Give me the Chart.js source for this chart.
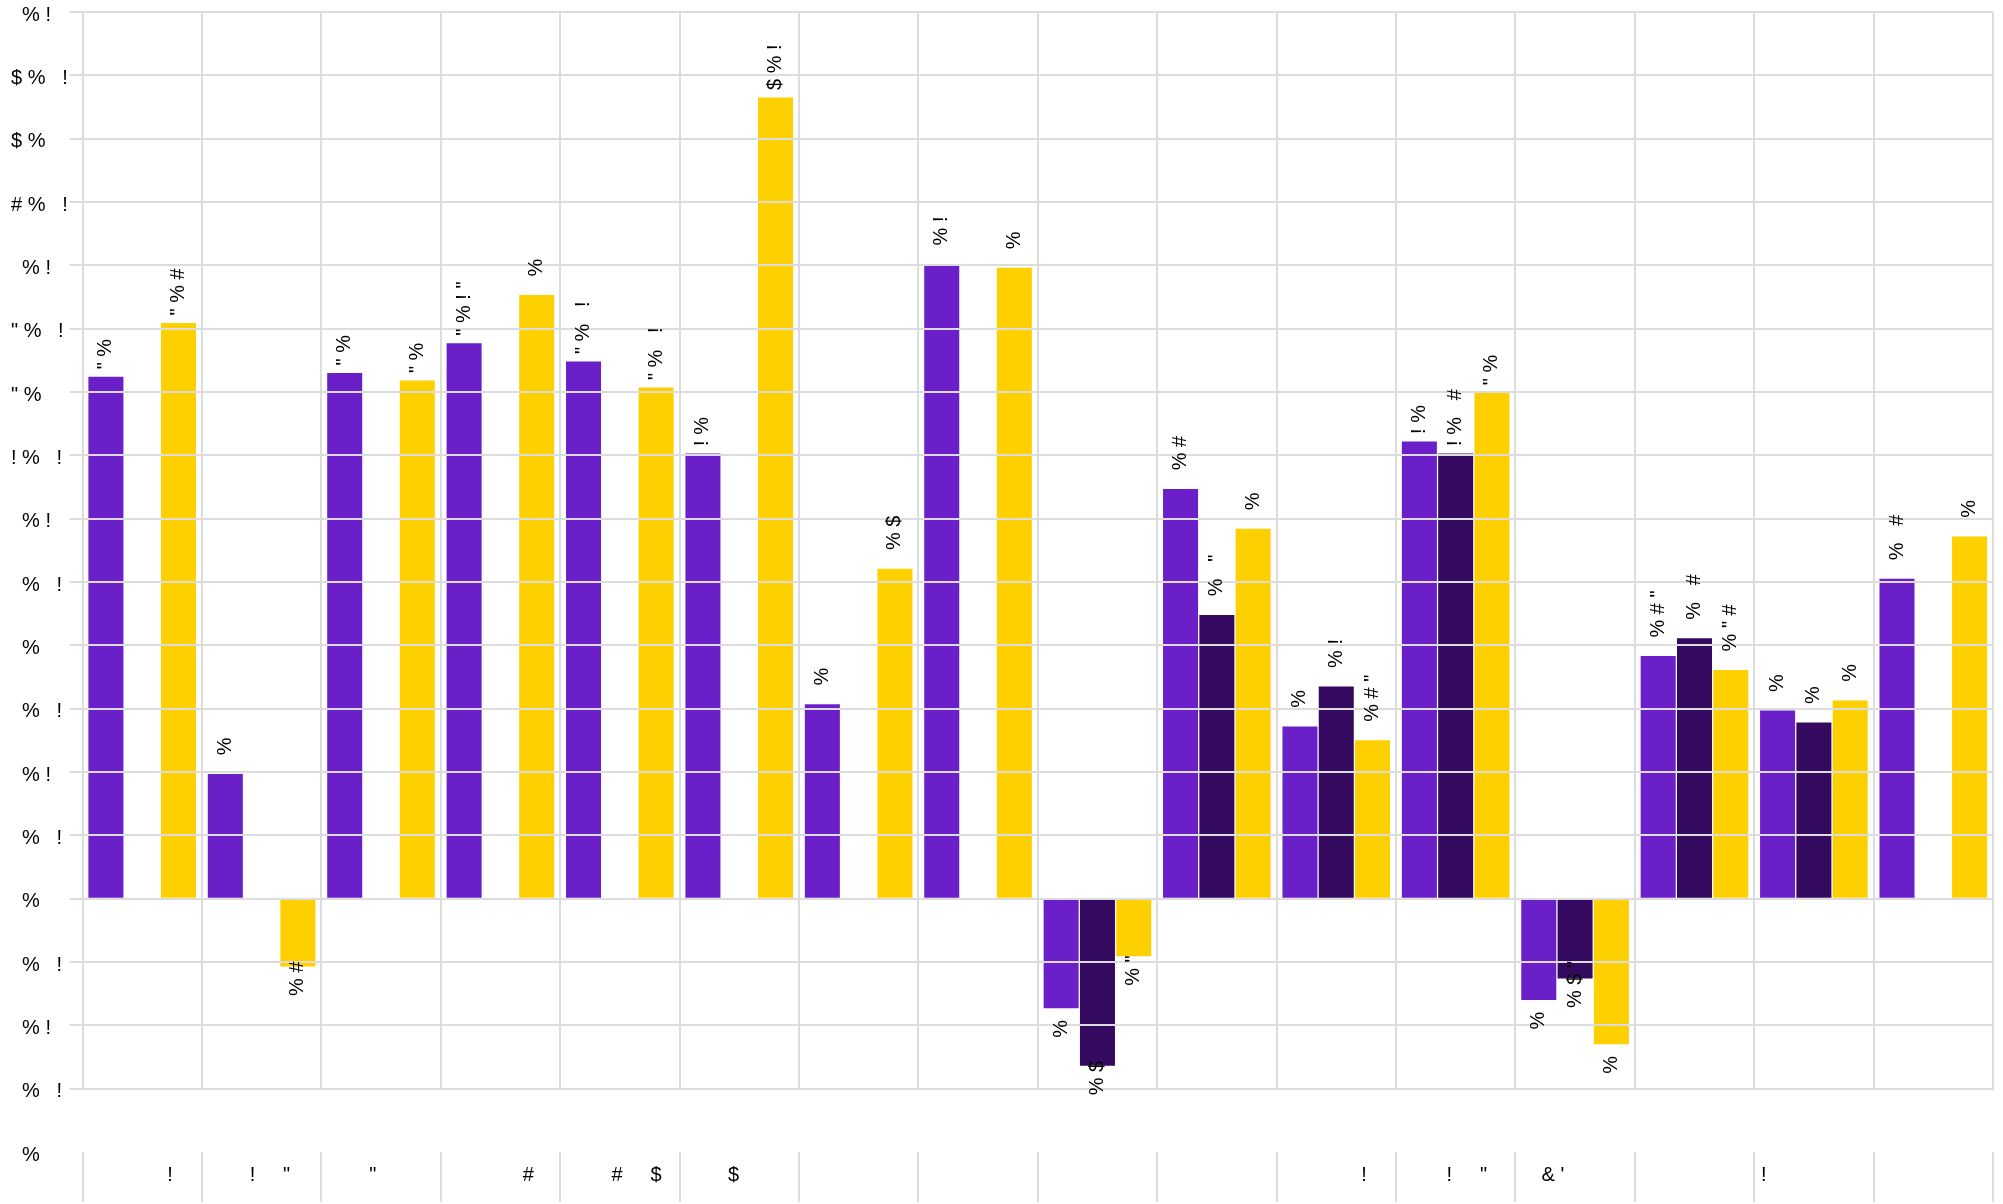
<!DOCTYPE html>
<html>
<head>
<meta charset="utf-8">
<script src="https://cdn.jsdelivr.net/npm/chart.js@4.4.0/dist/chart.umd.min.js"></script>
<style>
html, body { margin: 0; padding: 0; background: #fff; }
canvas { display: block; }
</style>
</head>
<body>
<canvas id="myChart" width="2003" height="1204"></canvas>
<script>
function sp(n) { return ' '.repeat(n); }

// category labels (only the visible glyphs survive, spaces keep their place)
var categories = [
    sp(10) + '!', sp(3) + '!' + sp(5) + '"', '"' + sp(3), sp(10) + '#',
    sp(6) + '#' + sp(5) + '$', '$' + sp(2), '', '',
    '', '', sp(10) + '!', sp(4) + '!' + sp(5) + '"',
    '& \'' + sp(8), '', '!' + sp(18), ''
];

// y tick texts, from -4 up to 14
var yTickText = [
    '  %', '  %   !', '  % !', '  %   !', '  %', '  %   !', '  % !', '  %   !', '  %',
    '  %   !', '  % !', '! %   !', '" %', '" %   !', '  % !', '# %   !', '$ %', '$ %   !', '  % !'
];

var purpleValues = [8.24, 1.97, 8.30, 8.77, 8.48, 7.03, 3.07, 10.02, -1.73, 6.47, 2.72, 7.22, -1.60, 3.83, 2.97, 5.05];
var darkValues   = [null, null, null, null, null, null, null, null, -2.64, 4.48, 3.35, 7.03, -1.26, 4.11, 2.78, null];
var yellowValues = [9.09, -1.07, 8.18, 9.53, 8.07, 12.65, 5.21, 9.96, -0.91, 5.84, 2.50, 7.99, -2.30, 3.61, 3.13, 5.72];

var purpleText = ['" %', '  %', '" %', '" % ! "', '" %   !', '! %', '  %', '  % !', '%', '  % #', '  %', '! %', '%', '  % # "', '  %', '  %   #'];
var darkText   = [null, null, null, null, null, null, null, null, '% $', '  %   "', '  % !', '! %   #', '% $ "', '  %   #', '  %', null];
var yellowText = ['" % #', '% #', '" %', '  %', '" %   !', '$ % !', '  % $', '  %', '% "', '  %', '  % # "', '" %', '%', '  % " #', '  %', '  %'];

var valueTexts = [purpleText, darkText, yellowText];
var fontFamily = '"Liberation Sans", Arial, sans-serif';

// blank band between the lowest gridline and the axis row
var gapCover = {
    id: 'gapCover',
    beforeDatasetsDraw: function(chart) {
        var a = chart.chartArea;
        var top = chart.scales.y.getPixelForValue(-3) + 1.5;
        var c = chart.ctx;
        c.save();
        c.fillStyle = '#fff';
        c.fillRect(a.left - 3, top, a.right - a.left + 6, a.bottom - top);
        c.restore();
    }
};

// rotated value texts next to the bars
var barLabels = {
    id: 'barLabels',
    afterDraw: function(chart) {
        var c = chart.ctx;
        c.save();
        c.font = '20px ' + fontFamily;
        c.fillStyle = '#000';
        c.textAlign = 'left';
        c.textBaseline = 'middle';
        chart.data.datasets.forEach(function(ds, i) {
            var meta = chart.getDatasetMeta(i);
            meta.data.forEach(function(bar, j) {
                var v = ds.data[j];
                var txt = valueTexts[i][j];
                if (v === null || !txt) return;
                var y = v >= 0 ? bar.y - 7.5 : bar.y + 29.5;
                c.save();
                c.translate(bar.x, y);
                c.rotate(-Math.PI / 2);
                c.fillText(txt, 0, 0);
                c.restore();
            });
        });
        c.restore();
    }
};

const ctx = document.getElementById('myChart').getContext('2d');
const myChart = new Chart(ctx, {
    type: 'bar',
    data: {
        labels: categories,
        datasets: [{
            label: 'A',
            data: purpleValues,
            backgroundColor: '#6b1fc8',
            categoryPercentage: 0.912,
            barPercentage: 0.965
        }, {
            label: 'B',
            data: darkValues,
            backgroundColor: '#340a60',
            categoryPercentage: 0.912,
            barPercentage: 0.965
        }, {
            label: 'C',
            data: yellowValues,
            backgroundColor: '#ffd000',
            categoryPercentage: 0.912,
            barPercentage: 0.965
        }]
    },
    options: {
        responsive: false,
        animation: false,
        devicePixelRatio: 1,
        layout: { padding: { left: 11, right: 10, top: 10, bottom: 0 } },
        plugins: {
            legend: { display: false },
            tooltip: { enabled: false }
        },
        scales: {
            x: {
                offset: true,
                grid: { offset: true, color: '#dcdcdc', lineWidth: 2, tickLength: 50, drawTicks: true },
                border: { display: false },
                ticks: {
                    autoSkip: false,
                    maxRotation: 0,
                    minRotation: 0,
                    padding: -39,
                    color: '#000',
                    font: { family: fontFamily, size: 20 }
                },
                afterFit: function(s) { s.height = 52; }
            },
            y: {
                min: -4,
                max: 14,
                grid: {
                    z: 1,
                    lineWidth: 2,
                    tickLength: 13,
                    color: function(c) {
                        return c.tick && c.tick.value === -4 ? 'rgba(0,0,0,0)' : '#dcdcdc';
                    }
                },
                border: { display: false },
                ticks: {
                    stepSize: 1,
                    crossAlign: 'far',
                    labelOffset: 3,
                    padding: 0,
                    color: '#000',
                    font: { family: fontFamily, size: 20 },
                    callback: function(v) { return yTickText[v + 4]; }
                },
                afterFit: function(s) { s.width = 71.5; }
            }
        }
    },
    plugins: [gapCover, barLabels]
});
</script>
</body>
</html>
